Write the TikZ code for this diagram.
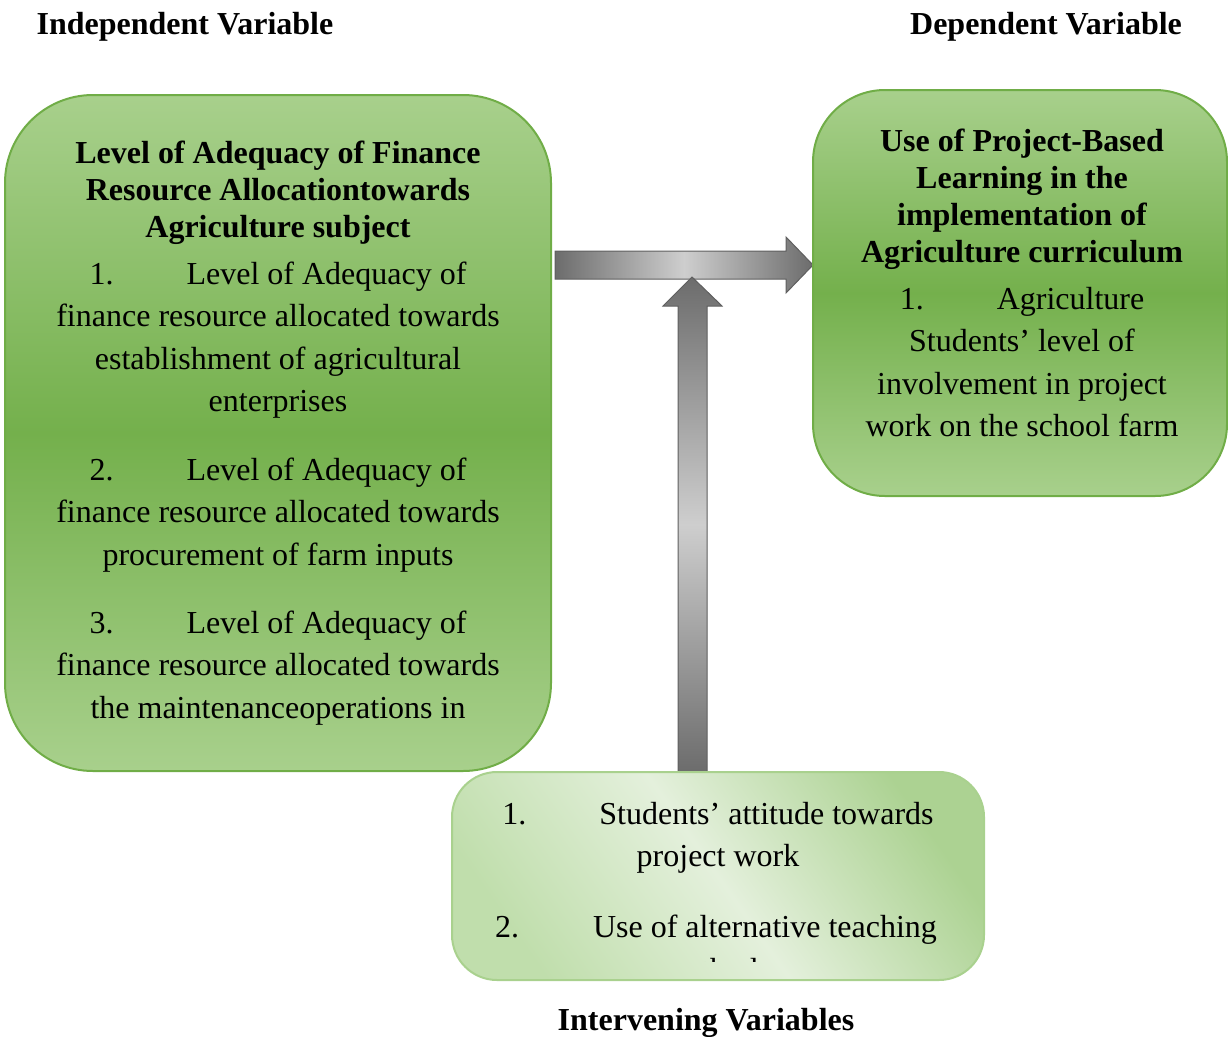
\documentclass[tikz,border=0pt]{standalone}
\usepackage{fontspec}
\setmainfont{Liberation Serif}
\definecolor{gtop}{RGB}{168,208,140}
\definecolor{gmid}{RGB}{116,176,76}
\definecolor{gedge}{RGB}{112,173,71}
\definecolor{ltA}{RGB}{192,222,172}
\definecolor{ltB}{RGB}{228,240,220}
\definecolor{ltC}{RGB}{172,210,146}
\definecolor{ltedge}{RGB}{169,209,142}
\definecolor{adark}{RGB}{108,108,108}
\definecolor{alight}{RGB}{206,206,206}
\definecolor{aedge}{RGB}{95,95,95}
\begin{document}
\begin{tikzpicture}[x=1pt,y=-1pt,
  greenbox/.style={draw=gedge, line width=2pt, top color=gtop, bottom color=gtop, middle color=gmid, inner sep=0pt},
  lightbox/.style={draw=ltedge, line width=2pt, left color=ltA, right color=ltC, middle color=ltB, shading angle=125, inner sep=0pt},
  blockarrow/.style={draw=aedge, line width=1pt, line join=miter},
  hdr/.style={font=\fontsize{32}{37}\selectfont\bfseries, inner sep=0pt},
  ttl/.style={font=\fontsize{32}{37}\selectfont\bfseries, align=center, inner sep=0pt},
  bodytxt/.style={font=\fontsize{32}{42.5}\selectfont, align=center, inner sep=0pt}]
\useasboundingbox (0,0) rectangle (1228,1036);

% block arrows
\draw[blockarrow, left color=adark, right color=adark, middle color=alight]
  (555,251) -- (786,251) -- (786,237) -- (813,265) -- (786,293) -- (786,279) -- (555,279) -- cycle;
\draw[blockarrow, top color=adark, bottom color=adark, middle color=alight]
  (678,772) -- (678,306) -- (663,306) -- (692,277) -- (722,306) -- (707,306) -- (707,772) -- cycle;

% boxes
\node[greenbox, rounded corners=88pt, minimum width=546pt, minimum height=676pt] (ind) at (278,433) {};
\node[greenbox, rounded corners=72pt, minimum width=414pt, minimum height=406pt] (dep) at (1020,293) {};
\node[lightbox, rounded corners=45pt, minimum width=532pt, minimum height=208pt] (intv) at (718,876) {};

% headings
\node[hdr] (indlab) at (185,27) {Independent Variable};
\node[hdr] (deplab) at (1046,27) {Dependent Variable};
\node[hdr] (intlab) at (706,1023) {Intervening Variables};

% left box text
\node[ttl] (indt) at (278,193) {Level of Adequacy of Finance\\Resource Allocationtowards\\Agriculture subject};
\node[bodytxt] (ind1) at (278,340) {1.\hspace{73pt}Level of Adequacy of\\finance resource allocated towards\\establishment of agricultural\\enterprises};
\node[bodytxt] (ind2) at (278,515) {2.\hspace{73pt}Level of Adequacy of\\finance resource allocated towards\\procurement of farm inputs};
\node[bodytxt] (ind3) at (278,668) {3.\hspace{73pt}Level of Adequacy of\\finance resource allocated towards\\the maintenanceoperations in};

% right box text
\node[ttl] (dept) at (1022,199) {Use of Project-Based\\Learning in the\\implementation of\\Agriculture curriculum};
\node[bodytxt] (dep1) at (1022,362) {1.\hspace{73pt}Agriculture\\Students’ level of\\involvement in project\\work on the school farm};

% bottom box text
\node[bodytxt] (int1) at (718,838) {1.\hspace{73pt}Students’ attitude towards\\project work};
\begin{scope}
  \clip (452,772) rectangle (984,961);
  \node[bodytxt] (int2) at (716,948) {2.\hspace{74pt}Use of alternative teaching\\methods};
\end{scope}
\end{tikzpicture}
\end{document}
